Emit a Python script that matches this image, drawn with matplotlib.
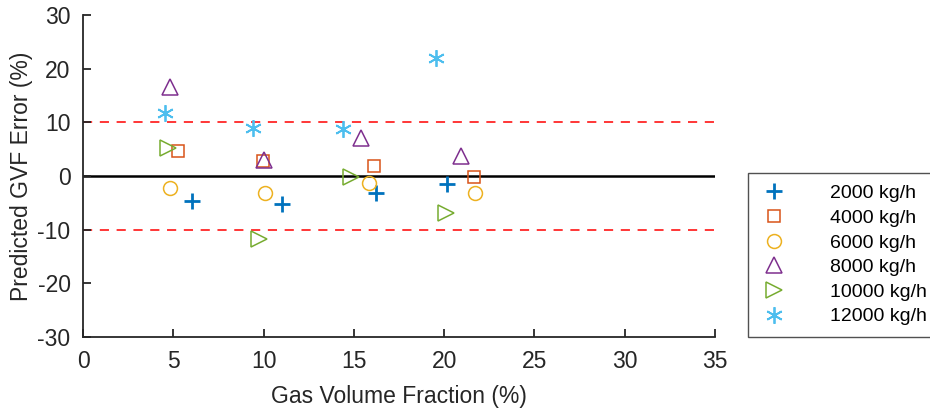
import matplotlib
matplotlib.use("Agg")
import matplotlib.pyplot as plt

plt.rcParams['font.family'] = ['Liberation Sans', 'DejaVu Sans']
plt.rcParams['axes.unicode_minus'] = False

# GVF prediction error per liquid flow rate
labels = ['2000 kg/h', '4000 kg/h', '6000 kg/h', '8000 kg/h', '10000 kg/h', '12000 kg/h']
gvf = [
    [6.05, 11.0, 16.2, 20.15],
    [5.24, 9.98, 16.1, 21.65],
    [4.82, 10.1, 15.85, 21.7],
    [4.82, 10.04, 15.4, 20.95],
    [4.73, 9.76, 14.82, 20.1],
    [4.52, 9.4, 14.38, 19.55],
]
err = [
    [-4.66, -5.3, -3.2, -1.4],
    [4.66, 2.8, 1.93, -0.19],
    [-2.17, -3.2, -1.24, -3.2],
    [16.6, 3.0, 7.1, 3.7],
    [5.15, -11.7, -0.12, -6.96],
    [11.8, 8.9, 8.7, 22.05],
]
limit = 10

colors = ['#0072BD', '#D95319', '#EDB120', '#7E2F8E', '#77AC30', '#4DBEEE']
asterisk = (6, 2, 0)
markers = ['+', 's', 'o', '^', '>', asterisk]
sizes = [12, 8, 10, 11, 11, 12]

fig = plt.figure(figsize=(9.3, 4.11), dpi=100)
ax = fig.add_axes([83 / 930, 1 - 337 / 411, (715 - 83) / 930, (337 - 15) / 411])

for x, y, lab, c, m, s in zip(gvf, err, labels, colors, markers, sizes):
    if m in ('+', asterisk):
        ax.plot(x, y, linestyle='none', marker=m, color=c, markersize=s,
                markeredgewidth=2 if m == '+' else 1.3, label=lab)
    else:
        ax.plot(x, y, linestyle='none', marker=m, markerfacecolor='none',
                markeredgecolor=c, markersize=s, markeredgewidth=1.1, label=lab)

ax.axhline(0, color='black', linewidth=1.8, zorder=1)
ax.axhline(limit, color='red', linestyle=(0, (6, 5)), linewidth=1.1, zorder=1)
ax.axhline(-limit, color='red', linestyle=(0, (6, 5)), linewidth=1.1, zorder=1)

ax.set_xlim(0, 35)
ax.set_ylim(-30, 30)
ax.set_xticks(range(0, 36, 5))
ax.set_yticks(range(-30, 31, 10))
ax.spines['top'].set_visible(False)
ax.spines['right'].set_visible(False)
for sp in ('left', 'bottom'):
    ax.spines[sp].set_color('#262626')
    ax.spines[sp].set_linewidth(1.3)
ax.tick_params(direction='in', length=6, width=1.3, color='#262626',
               labelsize=16.5, labelcolor='#262626', pad=9)
ax.set_xlabel('Gas Volume Fraction (%)', fontsize=16.5, color='#262626', labelpad=9)
ax.set_ylabel('Predicted GVF Error (%)', fontsize=16.5, color='#262626', labelpad=3)

leg = fig.legend(loc='lower left', bbox_to_anchor=(748 / 930, 1 - 337 / 411),
                 fontsize=14, frameon=True, fancybox=False, borderpad=0.6,
                 labelspacing=0.36, handlelength=1.5, handletextpad=2.1,
                 borderaxespad=0)
leg.get_frame().set_edgecolor('#262626')
leg.get_frame().set_linewidth(1.0)

fig.savefig('out.png', dpi=100)
